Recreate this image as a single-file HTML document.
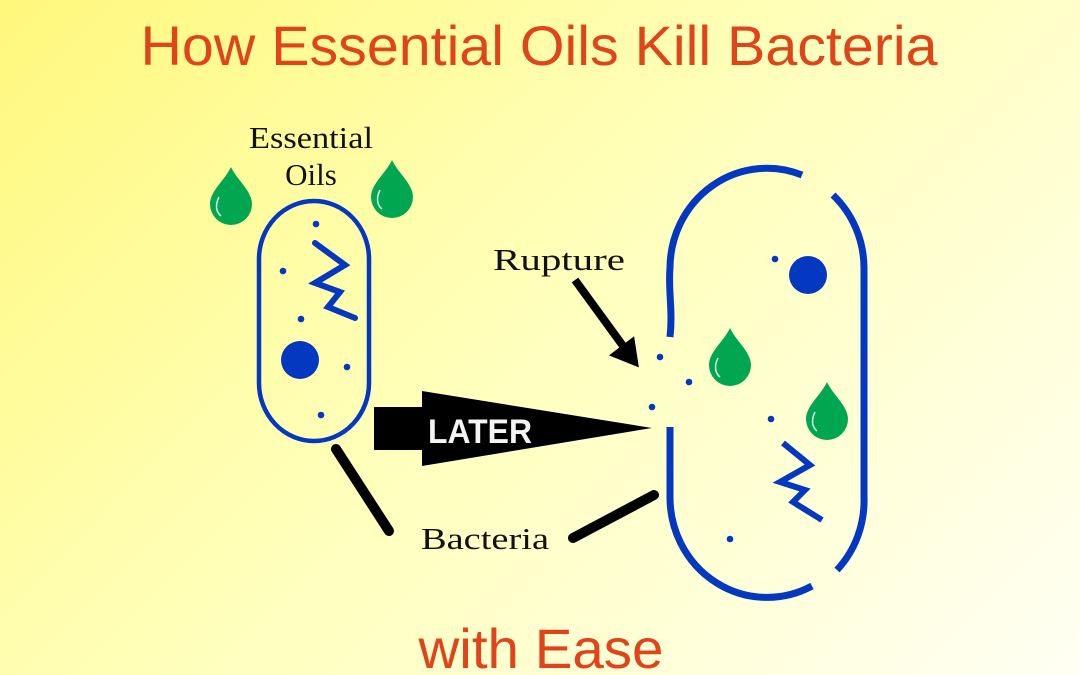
<!DOCTYPE html>
<html><head><meta charset="utf-8"><style>
html,body{margin:0;padding:0;width:1080px;height:675px;overflow:hidden}
body{background:linear-gradient(135deg,#fff87c 0%,#ffffb8 45%,#fffff4 100%)}
svg{display:block}
</style></head><body>
<svg width="1080" height="675" viewBox="0 0 1080 675" xmlns="http://www.w3.org/2000/svg">
<defs>
<g id="drop">
<path d="M21 0 C27 13 42 24 42 37 A21 21 0 0 1 0 37 C0 24 15 13 21 0 Z" fill="#00a650"/>
<path d="M9 30 C5 38 6 45 11 49" stroke="#fff" stroke-width="1.5" fill="none" opacity="0.85"/>
</g>
</defs>
<text x="539" y="65" text-anchor="middle" font-family="Liberation Sans, sans-serif" font-size="56" fill="#e0441a" textLength="797" lengthAdjust="spacingAndGlyphs">How Essential Oils Kill Bacteria</text>
<text x="541" y="668" text-anchor="middle" font-family="Liberation Sans, sans-serif" font-size="56" fill="#e0441a" textLength="245" lengthAdjust="spacingAndGlyphs">with Ease</text>

<g font-family="Liberation Serif, serif" font-size="31" fill="#111">
<text x="311" y="148" text-anchor="middle" textLength="124" lengthAdjust="spacingAndGlyphs">Essential</text>
<text x="311" y="185" text-anchor="middle">Oils</text>
<text x="559" y="270" text-anchor="middle" textLength="132" lengthAdjust="spacingAndGlyphs">Rupture</text>
<text x="485" y="549" text-anchor="middle" textLength="128" lengthAdjust="spacingAndGlyphs">Bacteria</text>
</g>

<use href="#drop" x="210" y="167"/>
<use href="#drop" x="371" y="160"/>
<use href="#drop" x="709" y="328"/>
<use href="#drop" x="806" y="382"/>

<rect x="259" y="201" width="110" height="240" rx="55" ry="58" fill="none" stroke="#0438c0" stroke-width="4.5"/>
<g fill="#0438c0">
<circle cx="316" cy="224" r="3.3"/><circle cx="283" cy="271" r="3.3"/><circle cx="301" cy="319" r="3.3"/>
<circle cx="347" cy="367" r="3.3"/><circle cx="321" cy="415" r="3.3"/>
<circle cx="300" cy="360" r="19"/>
<circle cx="775" cy="259" r="3.3"/><circle cx="771" cy="419" r="3.3"/><circle cx="730" cy="539" r="3.3"/>
<circle cx="660" cy="357" r="3.3"/><circle cx="689" cy="382" r="3.3"/><circle cx="652" cy="407" r="3.3"/>
<circle cx="808" cy="275" r="19"/>
</g>
<polyline points="315,243 345,265 315,283 340,292 328,307 355,318" fill="none" stroke="#0438c0" stroke-width="6" stroke-linejoin="miter" stroke-linecap="round"/>
<polyline points="783,443 810,465 780,482 805,490 793,502 822,520" fill="none" stroke="#0438c0" stroke-width="6" stroke-linejoin="miter" stroke-linecap="butt"/>

<g fill="none" stroke="#0438c0" stroke-width="7">
<path d="M802 175 A97 100 0 0 0 670 268 C668 290 673 310 670 337"/>
<path d="M670 427 L670 497 A97 100 0 0 0 812 586"/>
<path d="M837 570 A97 100 0 0 0 864 497 L864 268 A97 100 0 0 0 833 195"/>
</g>

<path d="M374 407 L422 407 L422 391 L652 428 L422 466 L422 450 L374 450 Z" fill="#000"/>
<text x="480" y="443" text-anchor="middle" font-family="Liberation Sans, sans-serif" font-weight="bold" font-size="34" fill="#f4f4f4" textLength="104" lengthAdjust="spacingAndGlyphs">LATER</text>

<line x1="575" y1="280" x2="626" y2="350" stroke="#000" stroke-width="8"/>
<path d="M612 355 L637 365 L633 339 Z" fill="#000" stroke="#000" stroke-width="3" stroke-linejoin="miter"/>

<g stroke="#000" stroke-width="10" stroke-linecap="round">
<line x1="336" y1="449" x2="389" y2="531"/>
<line x1="573" y1="538" x2="654" y2="495"/>
</g>
</svg>
</body></html>
